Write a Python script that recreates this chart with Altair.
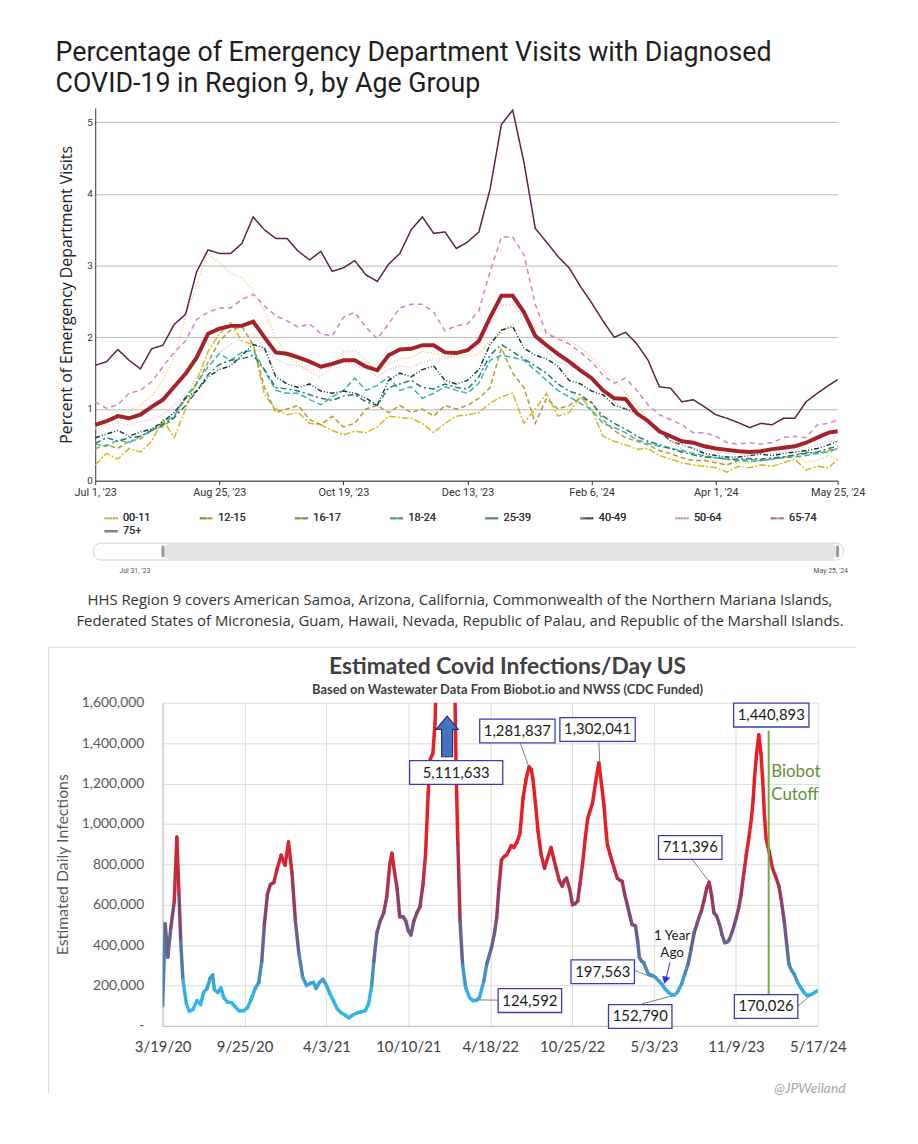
import altair as alt
import pandas as pd

# ================= TOP CHART DATA (ED visits, % with diagnosed COVID-19) =================
ed_start = "2023-07-01"
ed_end = "2024-05-25"
ed_days = list(range(0, 326, 5)) + [329]

age_groups = ["00-11", "12-15", "16-17", "18-24", "25-39", "40-49", "50-64", "65-74", "75+"]
age_colors = ["#ecc86b", "#d4b81c", "#b39a2e", "#35b3b8", "#1d7b70", "#0f3e3a", "#e4b6da", "#d57fc7", "#5e1f4c"]
age_dashes = [[1, 2], [7, 2, 2, 2], [5, 3], [6, 3], [6, 3, 2, 3], [5, 2, 1, 2, 1, 2], [1, 2], [5, 4], [1, 0]]

ed_00_11 = [0.75, 0.82, 0.90, 0.97, 1.05, 1.18, 1.40, 1.72, 2.28, 2.74, 3.17, 3.04, 2.90, 2.83, 2.64, 2.37, 2.00,
            1.75, 1.62, 1.52, 1.45, 1.60, 1.80, 1.82, 1.68, 1.52, 1.62, 1.70, 1.72, 1.80, 1.78, 1.72, 1.72,
            1.72, 1.77, 1.95, 2.05, 2.19, 2.28, 2.14, 2.07, 2.00, 1.95, 1.86, 1.72, 1.54, 1.40, 1.22, 1.08,
            0.85, 0.70, 0.55, 0.45, 0.35, 0.30, 0.28, 0.22, 0.25, 0.25, 0.28, 0.30, 0.32, 0.38, 0.25, 0.28, 0.35, 0.30]
ed_12_15 = [0.22, 0.38, 0.30, 0.45, 0.40, 0.55, 0.85, 0.60, 1.00, 1.40, 1.80, 2.05, 2.20, 1.95, 1.90, 1.20, 1.00,
            0.92, 0.95, 0.80, 0.78, 0.70, 0.64, 0.69, 0.67, 0.75, 0.90, 0.88, 0.87, 0.80, 0.67, 0.80, 0.90,
            0.92, 0.95, 1.08, 1.17, 1.22, 0.80, 1.00, 1.22, 0.90, 0.95, 1.17, 0.99, 0.62, 0.55, 0.50, 0.44,
            0.45, 0.35, 0.30, 0.25, 0.22, 0.20, 0.18, 0.12, 0.20, 0.18, 0.22, 0.20, 0.25, 0.30, 0.15, 0.20, 0.18, 0.30]
ed_16_17 = [0.45, 0.50, 0.45, 0.55, 0.58, 0.72, 0.75, 0.88, 1.15, 1.35, 1.65, 1.95, 2.10, 2.15, 1.90, 1.30, 0.95,
            1.00, 1.05, 0.85, 0.78, 0.90, 0.75, 0.80, 1.00, 1.05, 0.95, 1.05, 0.95, 1.00, 0.90, 1.05, 1.00,
            1.05, 1.15, 1.30, 1.85, 1.50, 1.30, 0.80, 1.15, 1.00, 1.05, 1.15, 1.10, 0.85, 0.70, 0.60, 0.55,
            0.50, 0.42, 0.38, 0.32, 0.28, 0.28, 0.25, 0.22, 0.28, 0.30, 0.28, 0.30, 0.33, 0.35, 0.40, 0.38, 0.42, 0.45]
ed_18_24 = [0.51, 0.48, 0.57, 0.53, 0.62, 0.69, 0.80, 0.90, 1.17, 1.36, 1.59, 1.77, 1.68, 1.79, 1.82, 1.54, 1.26,
            1.22, 1.22, 1.13, 1.06, 1.17, 1.26, 1.43, 1.26, 1.33, 1.45, 1.26, 1.31, 1.15, 1.22, 1.31, 1.26,
            1.22, 1.36, 1.68, 1.75, 1.72, 1.68, 1.54, 1.40, 1.26, 1.17, 1.08, 0.99, 0.80, 0.74, 0.67, 0.57,
            0.52, 0.48, 0.45, 0.42, 0.38, 0.35, 0.32, 0.30, 0.28, 0.27, 0.28, 0.30, 0.32, 0.33, 0.35, 0.38, 0.40, 0.45]
ed_25_39 = [0.52, 0.60, 0.55, 0.60, 0.62, 0.70, 0.78, 0.88, 1.05, 1.25, 1.48, 1.62, 1.68, 1.70, 1.75, 1.55, 1.30,
            1.28, 1.25, 1.20, 1.15, 1.12, 1.18, 1.20, 1.10, 1.05, 1.30, 1.35, 1.40, 1.30, 1.28, 1.35, 1.30,
            1.28, 1.45, 1.75, 1.90, 1.80, 1.70, 1.60, 1.50, 1.35, 1.25, 1.20, 1.08, 0.90, 0.80, 0.72, 0.62,
            0.55, 0.50, 0.45, 0.40, 0.36, 0.33, 0.32, 0.30, 0.30, 0.31, 0.30, 0.32, 0.33, 0.36, 0.38, 0.40, 0.45, 0.48]
ed_40_49 = [0.60, 0.65, 0.70, 0.62, 0.68, 0.72, 0.82, 0.95, 1.15, 1.25, 1.45, 1.55, 1.60, 1.75, 1.90, 1.85, 1.45,
            1.35, 1.30, 1.35, 1.25, 1.22, 1.25, 1.22, 1.15, 1.05, 1.40, 1.50, 1.45, 1.55, 1.60, 1.40, 1.35,
            1.40, 1.55, 1.90, 2.10, 2.15, 1.85, 1.75, 1.70, 1.60, 1.40, 1.35, 1.25, 1.20, 1.05, 1.00, 0.95,
            0.85, 0.70, 0.55, 0.50, 0.45, 0.38, 0.35, 0.33, 0.33, 0.35, 0.37, 0.35, 0.38, 0.40, 0.42, 0.45, 0.50, 0.55]
ed_50_64 = [0.72, 0.78, 0.80, 0.78, 0.82, 0.85, 0.92, 1.05, 1.20, 1.45, 1.65, 1.80, 1.90, 2.00, 2.05, 1.85, 1.70,
            1.62, 1.60, 1.55, 1.55, 1.60, 1.65, 1.62, 1.55, 1.45, 1.55, 1.60, 1.58, 1.65, 1.70, 1.70, 1.75,
            1.75, 1.90, 2.20, 2.45, 2.45, 2.30, 2.00, 1.80, 1.65, 1.60, 1.55, 1.40, 1.25, 1.10, 1.00, 0.90,
            0.75, 0.65, 0.55, 0.50, 0.45, 0.42, 0.40, 0.38, 0.36, 0.36, 0.38, 0.38, 0.40, 0.42, 0.45, 0.50, 0.55, 0.55]
ed_65_74 = [1.10, 1.01, 1.06, 1.22, 1.26, 1.38, 1.59, 1.79, 1.95, 2.25, 2.35, 2.41, 2.41, 2.53, 2.60, 2.44, 2.30,
            2.23, 2.14, 2.19, 2.05, 2.02, 2.28, 2.35, 2.14, 1.98, 2.19, 2.41, 2.46, 2.46, 2.35, 2.09, 2.16,
            2.19, 2.37, 2.92, 3.40, 3.40, 3.15, 2.46, 2.05, 1.98, 1.91, 1.79, 1.66, 1.47, 1.36, 1.43, 1.26,
            1.06, 0.92, 0.85, 0.78, 0.67, 0.67, 0.62, 0.53, 0.51, 0.53, 0.51, 0.53, 0.60, 0.62, 0.60, 0.78, 0.80, 0.85]
ed_75_up = [1.61, 1.66, 1.83, 1.68, 1.56, 1.84, 1.89, 2.18, 2.32, 2.92, 3.22, 3.17, 3.17, 3.31, 3.68, 3.50, 3.38,
            3.38, 3.20, 3.08, 3.20, 2.92, 2.97, 3.07, 2.87, 2.78, 3.02, 3.17, 3.50, 3.68, 3.45, 3.47, 3.24,
            3.33, 3.47, 4.07, 4.97, 5.17, 4.44, 3.52, 3.33, 3.13, 2.97, 2.71, 2.48, 2.23, 2.00, 2.07, 1.91,
            1.68, 1.31, 1.29, 1.10, 1.13, 1.03, 0.92, 0.87, 0.81, 0.74, 0.80, 0.78, 0.87, 0.87, 1.10, 1.22, 1.33, 1.41]
ed_all_ages = [0.78, 0.83, 0.90, 0.87, 0.92, 1.03, 1.13, 1.31, 1.49, 1.72, 2.05, 2.12, 2.16, 2.16, 2.22, 2.00, 1.79,
               1.77, 1.72, 1.66, 1.59, 1.63, 1.68, 1.68, 1.59, 1.54, 1.75, 1.83, 1.84, 1.89, 1.89, 1.79, 1.78,
               1.82, 1.95, 2.28, 2.58, 2.58, 2.35, 2.02, 1.89, 1.77, 1.66, 1.54, 1.43, 1.26, 1.15, 1.14, 0.94,
               0.83, 0.69, 0.62, 0.55, 0.53, 0.48, 0.45, 0.43, 0.41, 0.40, 0.41, 0.44, 0.46, 0.48, 0.53, 0.60, 0.67, 0.69]

ed_tick_dates = ["2023-07-01", "2023-08-25", "2023-10-19", "2023-12-13", "2024-02-06", "2024-04-01", "2024-05-25"]
ed_y_ticks = [0, 0.5, 1, 1.5, 2, 2.5, 3, 3.5, 4, 4.5, 5]
slider_start = "2023-07-31"

top_title_1 = "Percentage of Emergency Department Visits with Diagnosed"
top_title_2 = "COVID-19 in Region 9, by Age Group"
caption_1 = "HHS Region 9 covers American Samoa, Arizona, California, Commonwealth of the Northern Mariana Islands,"
caption_2 = "Federated States of Micronesia, Guam, Hawaii, Nevada, Republic of Palau, and Republic of the Marshall Islands."

# ================= BOTTOM CHART DATA (wastewater-estimated infections/day) =================
ww_start = "2020-03-19"
ww_end = "2024-05-17"
ww_days = [0, 6, 12, 19, 27, 33, 38, 42, 47, 55, 62, 70, 80, 88, 95, 103, 110, 116, 120, 128, 135, 142, 150, 160,
           168, 177, 188, 197, 205, 215, 223, 230, 236, 243, 250, 258, 266, 275, 284, 292, 300, 308, 316, 325,
           334, 342, 350, 356, 364, 372, 380, 388, 397, 405, 414, 422, 432, 442, 452, 462, 470, 478, 485, 490,
           497, 505, 513, 520, 527, 532, 538, 544, 550, 558, 564, 570, 576, 583, 590, 597, 604, 610, 616, 621,
           627, 632, 637, 645, 652, 657, 663, 670, 677, 681, 685, 690, 696, 703, 712, 720, 728, 735, 745, 752,
           763, 770, 775, 780, 786, 793, 798, 804, 809, 815, 822, 829, 836, 843, 850, 855, 859, 865, 871, 878,
           886, 893, 901, 907, 913, 920, 927, 932, 937, 944, 951, 957, 963, 968, 974, 980, 986, 991, 997, 1004,
           1012, 1018, 1024, 1028, 1032, 1038, 1043, 1049, 1055, 1060, 1066, 1072, 1078, 1084, 1089, 1097, 1102,
           1106, 1111, 1116, 1121, 1127, 1135, 1143, 1150, 1158, 1165, 1173, 1180, 1187, 1194, 1204, 1212, 1219,
           1226, 1233, 1239, 1245, 1250, 1256, 1262, 1268, 1274, 1279, 1285, 1292, 1298, 1304, 1310, 1315, 1322,
           1331, 1337, 1342, 1348, 1354, 1360, 1366, 1370, 1373, 1378, 1383, 1388, 1392, 1396, 1400, 1404, 1407,
           1411, 1415, 1422, 1430, 1436, 1442, 1448, 1453, 1459, 1465, 1472, 1480, 1488, 1495, 1501, 1507, 1514, 1520]
ww_thousands = [100, 505, 340, 485, 616, 935, 650, 420, 230, 110, 72, 80, 125, 105, 165, 185, 235, 252, 180, 165, 188, 140, 118, 115,
                95, 75, 75, 90, 130, 185, 215, 320, 500, 650, 700, 710, 780, 845, 795, 910, 760, 520, 360, 240,
                200, 210, 215, 185, 215, 230, 200, 160, 120, 85, 65, 55, 40, 55, 65, 70, 75, 110, 200, 320,
                460, 520, 560, 640, 800, 855, 760, 680, 540, 540, 520, 470, 450, 520, 560, 590, 700, 850, 1150, 1320,
                1350, 1500, 1900, 3200, 4500, 5112, 4400, 3000, 1800, 1250, 900, 520, 300, 190, 140, 125, 125, 140, 220, 306,
                388, 460, 535, 680, 821, 840, 846, 870, 893, 883, 910, 952, 1124, 1220, 1282, 1270, 1222, 1100, 962, 850,
                780, 830, 883, 830, 780, 720, 692, 720, 731, 680, 600, 605, 618, 700, 797, 920, 1026, 1060, 1100, 1200,
                1302, 1200, 1091, 980, 895, 850, 814, 770, 731, 722, 716, 650, 600, 545, 502, 495, 420,
                339, 320, 314, 285, 257, 250, 240, 225, 207, 185, 167, 155, 153, 165, 207, 260, 306,
                380, 460, 502, 540, 569, 620, 680, 711, 640, 560, 545, 502, 450, 412, 415, 428, 470,
                535, 590, 649, 750, 846, 930, 1026, 1120, 1222, 1350, 1441, 1350, 1222, 1050, 928, 890, 863,
                820, 780, 740, 690, 610, 520, 400, 306, 275, 257, 220, 191, 165, 150, 152, 158, 167, 175]

ww_tick_dates = ["2020-03-19", "2020-09-25", "2021-04-03", "2021-10-10", "2022-04-18",
                 "2022-10-25", "2023-05-03", "2023-11-09", "2024-05-17"]
ww_y_ticks = [0, 200000, 400000, 600000, 800000, 1000000, 1200000, 1400000, 1600000]

ann_labels = ["5,111,633", "1,281,837", "1,302,041", "1,440,893", "711,396", "197,563", "124,592", "152,790", "170,026"]
ann_box_days = [681, 823, 1009, 1412, 1224, 1021, 852, 1108, 1400]
ann_box_vals = [1254000, 1460000, 1467500, 1538700, 883000, 267500, 125000, 46600, 95700]

lead_day0 = [830, 1012, 1228, 1094, 779, 1112, 1474]
lead_val0 = [1399000, 1404000, 825000, 275000, 127000, 109000, 98000]
lead_day1 = [848, 1014, 1267, 1135, 724, 1187, 1504]
lead_val1 = [1291000, 1305000, 717000, 240000, 129000, 151000, 152000]

arrow_day, arrow_val = 660, 1433000
cutoff_day, cutoff_top, cutoff_bottom = 1406, 1462500, 157000
cutoff_text_day, cutoff_text_vals = 1412, [1256500, 1143600]
year_text_day, year_text_vals = 1182, [446600, 358300]
year_arrow = (1177, 314000, 1168, 235600)
year_tip = (1166, 226000)

bottom_title = "Estimated Covid Infections/Day US"
bottom_subtitle = "Based on Wastewater Data From Biobot.io and NWSS (CDC Funded)"


# ================= helpers =================
def day_str(start, d):
    return (pd.Timestamp(start) + pd.Timedelta(days=d)).strftime("%Y-%m-%d")


def dt(s):
    y, m, d = (int(p) for p in s.split("-"))
    return alt.DateTime(year=y, month=m, date=d, utc=True)


def dt_off(start, d):
    return dt(day_str(start, d))


one = pd.DataFrame({"k": [0]})


def txt(text, x, y, **kw):
    return alt.Chart(one).mark_text(text=text, **kw).encode(x=alt.value(x), y=alt.value(y))


# ================= TOP CHART =================
# Both panels share one left edge for their plot origin; the top panel's plot is drawn
# shifted left of that origin by SHIFT pixels (scale range + axis offset).
SHIFT = 68
TOP_W = 749

ed_dates = [day_str(ed_start, d) for d in ed_days]
series = [ed_00_11, ed_12_15, ed_16_17, ed_18_24, ed_25_39, ed_40_49, ed_50_64, ed_65_74, ed_75_up]
ed_long = pd.DataFrame(
    [{"date": dd, "group": g, "pct": v} for g, vals in zip(age_groups, series) for dd, v in zip(ed_dates, vals)]
)
ed_all = pd.DataFrame({"date": ed_dates, "pct": ed_all_ages})

ed_x = alt.Scale(type="utc", domain=[dt(ed_start), dt(ed_end)], nice=False, range=[-SHIFT, TOP_W - SHIFT])
ed_y = alt.Scale(domain=[0, 5.2], nice=False, zero=True)

ed_x_axis = alt.Axis(values=[dt(s) for s in ed_tick_dates], format="%b %-d, '%y", title=None,
                     labelFont="Roboto", labelFontSize=11, labelColor="#333333", domainColor="#333333",
                     tickColor="#333333", tickSize=4, labelPadding=2, grid=False, labelOverlap=False,
                     labelFlush=False)
ed_y_axis = alt.Axis(values=ed_y_ticks, format="~g", grid=True, gridColor="#b8b8b8", domainColor="#333333",
                     ticks=False, labelFont="Roboto", labelFontSize=10, labelColor="#333333", labelPadding=3,
                     title="Percent of Emergency Department Visits", titleFont="Open Sans", titleFontSize=16,
                     titleFontWeight="normal", titleColor="#222222", titlePadding=12, offset=SHIFT)

leg = alt.Legend(title=None, orient="none", legendX=8 - SHIFT, legendY=406, columns=8, direction="horizontal",
                 symbolType="stroke", symbolSize=170, symbolStrokeWidth=2, labelFont="Roboto", labelFontSize=11,
                 labelFontWeight="normal", labelColor="#333333", columnPadding=45, rowPadding=-2, labelOffset=4)

age_lines = alt.Chart(ed_long).mark_line(strokeWidth=1.5).encode(
    x=alt.X("date:T", scale=ed_x, axis=ed_x_axis),
    y=alt.Y("pct:Q", scale=ed_y, axis=ed_y_axis),
    color=alt.Color("group:N", scale=alt.Scale(domain=age_groups, range=age_colors), legend=leg),
    strokeDash=alt.StrokeDash("group:N", scale=alt.Scale(domain=age_groups, range=age_dashes), legend=leg),
)
all_line = alt.Chart(ed_all).mark_line(strokeWidth=4, color="#a52228").encode(
    x=alt.X("date:T", scale=ed_x),
    y=alt.Y("pct:Q", scale=ed_y),
)

t1 = txt(top_title_1, -40 - SHIFT, -47, align="left", baseline="alphabetic", font="Roboto", fontSize=27,
         color="#1e1e1e")
t2 = txt(top_title_2, -40 - SHIFT, -16, align="left", baseline="alphabetic", font="Roboto", fontSize=27,
         color="#1e1e1e")
c1 = txt(caption_1, 368 - SHIFT, 496, align="center", baseline="middle", font="Open Sans", fontSize=15,
         color="#333333")
c2 = txt(caption_2, 368 - SHIFT, 518, align="center", baseline="middle", font="Open Sans", fontSize=15,
         color="#333333")
s_lab1 = txt("Jul 31, '23", 40 - SHIFT, 467, align="center", baseline="middle", font="Roboto", fontSize=7,
             color="#555555")
s_lab2 = txt("May 25, '24", 742 - SHIFT, 467, align="center", baseline="middle", font="Roboto", fontSize=7,
             color="#555555")

slider_outer = alt.Chart(one).mark_rect(cornerRadius=8, fill="white", stroke="#cfcfcf").encode(
    x=alt.value(-2 - SHIFT), x2=alt.value(755 - SHIFT), y=alt.value(439), y2=alt.value(456))
slider_inner = alt.Chart(one).mark_rect(cornerRadius=7, fill="#e4e4e4").encode(
    x=alt.datum(dt(slider_start)), x2=alt.datum(dt(ed_end)), y=alt.value(440), y2=alt.value(455))
handle1 = alt.Chart(one).mark_rule(color="#9a9a9a", strokeWidth=3, strokeCap="round").encode(
    x=alt.datum(dt(slider_start)), y=alt.value(443), y2=alt.value(452))
handle2 = alt.Chart(one).mark_rule(color="#9a9a9a", strokeWidth=3, strokeCap="round").encode(
    x=alt.datum(dt(ed_end)), y=alt.value(443), y2=alt.value(452))

top = alt.layer(
    age_lines, all_line, slider_outer, slider_inner, handle1, handle2,
    t1, t2, c1, c2, s_lab1, s_lab2
).properties(width=TOP_W - SHIFT, height=376)

# ================= BOTTOM CHART =================
ww_dates = [day_str(ww_start, d) for d in ww_days]
ww_vals = [v * 1000 for v in ww_thousands]
seg = pd.DataFrame({"d0": ww_dates[:-1], "d1": ww_dates[1:], "v0": ww_vals[:-1], "v1": ww_vals[1:]})
seg["cv"] = (seg["v0"] + seg["v1"]) / 2

ww_x = alt.Scale(type="utc", domain=[dt(ww_start), dt(ww_end)], nice=False)
ww_y = alt.Scale(domain=[0, 1600000], nice=False, zero=True)

ww_x_axis = alt.Axis(values=[dt(s) for s in ww_tick_dates], format="%-m/%-d/%y", title=None,
                     labelFont="Lato", labelFontSize=15, labelColor="#404040", domainColor="#bfbfbf",
                     ticks=False, grid=True, gridColor="#dcdcdc", labelPadding=14, labelOverlap=False,
                     labelFlush=False)
ww_y_axis = alt.Axis(values=ww_y_ticks, labelExpr="datum.value == 0 ? '-' : format(datum.value, ',')",
                     labelFont="Lato", labelFontSize=14, labelColor="#595959", labelPadding=19, ticks=False,
                     domainColor="#bfbfbf", grid=True, gridColor="#dcdcdc",
                     title="Estimated Daily Infections", titleFont="Lato", titleFontSize=16,
                     titleFontWeight="normal", titleColor="#595959", titlePadding=11)

curve = alt.Chart(seg).mark_rule(strokeWidth=3.5, strokeCap="round", clip=True).encode(
    x=alt.X("d0:T", scale=ww_x, axis=ww_x_axis),
    x2="d1:T",
    y=alt.Y("v0:Q", scale=ww_y, axis=ww_y_axis),
    y2="v1:Q",
    color=alt.Color("cv:Q", legend=None,
                    scale=alt.Scale(domain=[150000, 350000, 600000, 900000],
                                    range=["#2fb6ea", "#5a6f9f", "#8e3d66", "#ec1c24"],
                                    interpolate="rgb", clamp=True)),
)

leaders = pd.DataFrame({
    "d0": [day_str(ww_start, d) for d in lead_day0], "v0": lead_val0,
    "d1": [day_str(ww_start, d) for d in lead_day1], "v1": lead_val1,
})
leader_rules = alt.Chart(leaders).mark_rule(color="#808080", strokeWidth=1).encode(
    x=alt.X("d0:T", scale=ww_x), x2="d1:T",
    y=alt.Y("v0:Q", scale=ww_y), y2="v1:Q")

box_height = 24
box_width_by_len = {7: 64, 9: 76}
box_width_override = {"5,111,633": 94}
ann = pd.DataFrame({"date": [day_str(ww_start, d) for d in ann_box_days], "val": ann_box_vals, "label": ann_labels})
widths = [box_width_override.get(l, box_width_by_len.get(len(l), 70)) for l in ann_labels]
ann["shape"] = [f"M-1,{-box_height / w:.4f}L1,{-box_height / w:.4f}L1,{box_height / w:.4f}L-1,{box_height / w:.4f}Z"
                for w in widths]
ann["sz"] = [w * w for w in widths]

boxes = alt.Chart(ann).mark_point(filled=True, fill="white", stroke="#3b3bb3", strokeWidth=1.3,
                                  opacity=1, fillOpacity=1).encode(
    x=alt.X("date:T", scale=ww_x),
    y=alt.Y("val:Q", scale=ww_y),
    shape=alt.Shape("shape:N", scale=None),
    size=alt.Size("sz:Q", scale=None),
)
box_text = alt.Chart(ann).mark_text(font="Lato", fontSize=15, color="#1a1a1a", baseline="middle").encode(
    x=alt.X("date:T", scale=ww_x),
    y=alt.Y("val:Q", scale=ww_y),
    text="label:N",
)

arrow_shape = "M0,-1L0.55,-0.35L0.27,-0.35L0.27,1L-0.27,1L-0.27,-0.35L-0.55,-0.35Z"
arrow = alt.Chart(one).mark_point(shape=arrow_shape, size=1681, filled=True, fill="#4472c4",
                                  stroke="#1f3864", strokeWidth=1.2, opacity=1).encode(
    x=alt.datum(dt_off(ww_start, arrow_day)), y=alt.datum(arrow_val))

cutoff_line = alt.Chart(one).mark_rule(color="#70ad47", strokeWidth=2).encode(
    x=alt.datum(dt_off(ww_start, cutoff_day)), y=alt.datum(cutoff_top), y2=alt.datum(cutoff_bottom))
cut_t1 = alt.Chart(one).mark_text(text="Biobot", font="Lato", fontSize=17, color="#5f8f3a",
                                  align="left", baseline="middle").encode(
    x=alt.datum(dt_off(ww_start, cutoff_text_day)), y=alt.datum(cutoff_text_vals[0]))
cut_t2 = alt.Chart(one).mark_text(text="Cutoff", font="Lato", fontSize=17, color="#5f8f3a",
                                  align="left", baseline="middle").encode(
    x=alt.datum(dt_off(ww_start, cutoff_text_day)), y=alt.datum(cutoff_text_vals[1]))

yr_t1 = alt.Chart(one).mark_text(text="1 Year", font="Lato", fontSize=13.5, color="#1a1a1a",
                                 align="center", baseline="middle").encode(
    x=alt.datum(dt_off(ww_start, year_text_day)), y=alt.datum(year_text_vals[0]))
yr_t2 = alt.Chart(one).mark_text(text="Ago", font="Lato", fontSize=13.5, color="#1a1a1a",
                                 align="center", baseline="middle").encode(
    x=alt.datum(dt_off(ww_start, year_text_day)), y=alt.datum(year_text_vals[1]))
yr_line = alt.Chart(one).mark_rule(color="#3030e0", strokeWidth=1).encode(
    x=alt.datum(dt_off(ww_start, year_arrow[0])), y=alt.datum(year_arrow[1]),
    x2=alt.datum(dt_off(ww_start, year_arrow[2])), y2=alt.datum(year_arrow[3]))
yr_tip = alt.Chart(one).mark_point(shape="triangle-down", filled=True, color="#2a2af0", size=70,
                                   angle=15, opacity=1).encode(
    x=alt.datum(dt_off(ww_start, year_tip[0])), y=alt.datum(year_tip[1]))

bt1 = txt(bottom_title, 348, -29, align="center", baseline="alphabetic", font="Lato", fontSize=23,
          fontWeight="bold", color="#404040")
bt2 = txt(bottom_subtitle, 348, -9, align="center", baseline="alphabetic", font="Lato", fontSize=13,
          fontWeight="bold", color="#404040")
handle_txt = txt("@JPWeiland", 689, 390, align="right", baseline="middle", font="Lato", fontSize=14,
                 fontStyle="italic", color="#a6a6a6")

border_top = alt.Chart(one).mark_rule(color="#d9d9d9", strokeWidth=1).encode(
    x=alt.value(-115), x2=alt.value(699), y=alt.value(-56))
border_left = alt.Chart(one).mark_rule(color="#d9d9d9", strokeWidth=1).encode(
    x=alt.value(-115), y=alt.value(-56), y2=alt.value(394))

bottom = alt.layer(
    curve, leader_rules, cutoff_line, boxes, box_text, arrow,
    cut_t1, cut_t2, yr_line, yr_tip, yr_t1, yr_t2, border_top, border_left, bt1, bt2, handle_txt
).properties(width=661, height=326)

chart = alt.concat(top, bottom, columns=1, align="none", spacing=17).properties(
    padding={"left": 40, "top": 27, "right": 5, "bottom": 5}
).configure_view(stroke=None)

chart.save("out.html", embed_options={"renderer": "svg", "actions": False})
